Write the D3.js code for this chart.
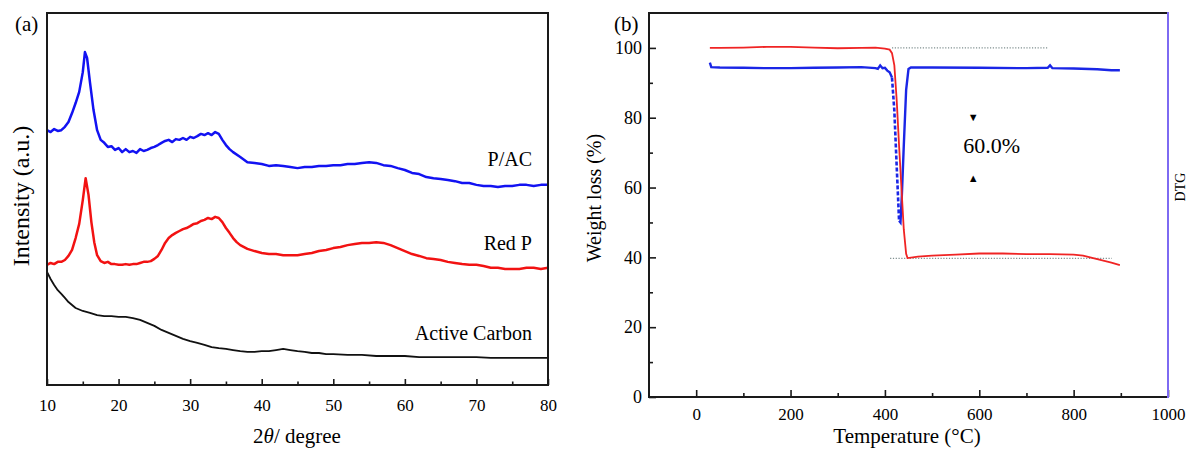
<!DOCTYPE html>
<html>
<head>
<meta charset="utf-8">
<script src="https://cdn.jsdelivr.net/npm/d3@7"></script>
<style>
  body { margin: 0; background: #fff; }
  svg text { font-family: "Liberation Serif", "Times New Roman", serif; fill: #000; }
</style>
</head>
<body>
<div id="chart"></div>
<script>
// ---- panel (a): XRD patterns, [2theta, intensity a.u.]
const xrdPAC = [
  [10,685],[10.5,680],[11,688],[11.5,683],[12,685],[12.5,694],[13,707],[13.5,731],[14,758],[14.5,788],
  [15,841],[15.3,895],[15.6,879],[16,814],[16.5,739],[17,685],[17.5,659],[18,651],[18.5,640],[19,642],
  [19.5,632],[20,637],[20.5,626],[21,634],[21.5,626],[22,629],[22.5,624],[23,634],[23.5,629],[24,632],
  [24.5,637],[25,640],[25.5,645],[26,651],[26.5,656],[27,659],[27.5,653],[28,661],[28.5,659],[29,664],
  [29.5,659],[30,667],[30.5,664],[31,669],[31.5,675],[32,672],[32.5,677],[33,672],[33.5,680],[34,675],
  [34.5,659],[35,645],[35.5,634],[36,626],[37,613],[38,599],[39,597],[40,594],[41,589],[42,591],
  [43,589],[44,586],[45,583],[46,586],[47,586],[48,589],[49,589],[50,591],[51,591],[52,594],
  [53,594],[54,597],[55,599],[56,597],[57,591],[58,589],[59,583],[60,578],[61,570],[62,567],
  [63,559],[64,556],[65,554],[66,551],[67,548],[68,543],[69,543],[70,538],[71,535],[72,535],
  [73,532],[74,535],[75,535],[76,538],[77,538],[78,535],[79,538],[80,538]
];
const xrdRedP = [
  [10,323],[10.5,328],[11,325],[11.5,331],[12,331],[12.5,336],[13,347],[13.5,363],[14,395],[14.5,433],
  [15,497],[15.4,556],[15.8,511],[16.2,438],[16.6,384],[17,349],[17.5,333],[18,328],[18.5,331],[19,325],
  [19.5,325],[20,323],[20.5,323],[21,325],[21.5,323],[22,325],[22.5,325],[23,328],[23.5,331],[24,331],
  [24.5,333],[25,339],[25.5,347],[26,363],[26.5,382],[27,395],[27.5,403],[28,409],[28.5,414],[29,419],
  [29.5,422],[30,427],[30.5,433],[31,435],[31.5,441],[32,444],[32.5,449],[33,446],[33.5,452],[34,449],
  [34.5,438],[35,422],[35.5,409],[36,395],[36.5,384],[37,376],[38,366],[39,360],[40,355],[41,352],
  [42,352],[43,349],[44,349],[45,349],[46,352],[47,355],[48,360],[49,363],[50,368],[51,371],
  [52,376],[53,379],[54,382],[55,382],[56,384],[57,382],[58,376],[59,368],[60,360],[61,352],
  [62,347],[63,341],[64,339],[65,336],[66,331],[67,328],[68,325],[69,323],[70,323],[71,320],
  [72,315],[73,315],[74,312],[75,312],[76,312],[77,315],[78,315],[79,312],[80,315]
];
const xrdCarbon = [
  [10,304],[10.5,285],[11,269],[11.5,255],[12,245],[12.5,234],[13,223],[13.5,215],[14,207],[15,199],
  [16,194],[17,188],[18,185],[19,185],[20,183],[21,183],[22,180],[23,175],[24,167],[25,159],
  [26,148],[27,140],[28,132],[29,124],[30,118],[31,113],[32,108],[33,102],[34,99],[35,97],
  [36,94],[37,91],[38,89],[39,89],[40,91],[41,91],[42,94],[43,97],[44,94],[45,91],
  [46,89],[47,86],[48,86],[49,83],[50,83],[52,81],[54,81],[56,78],[58,78],[60,78],
  [62,75],[64,75],[66,75],[68,75],[70,75],[72,73],[74,73],[76,73],[78,73],[80,73]
];
const xrdLabels = ["P/AC", "Red P", "Active Carbon"];
const xrdLabelPos = [[80, 588], [80, 363], [80, 122]];
const xrdMajorTicks = [10, 20, 30, 40, 50, 60, 70, 80];
const xrdMinorTicks = [15, 25, 35, 45, 55, 65, 75];

// ---- panel (b): TG / DTG, [temperature, value]
const tgCurve = [
  [29,100.0],[50,100.0],[100,100.1],[150,100.3],[200,100.3],[250,100.1],[300,99.9],[350,100.0],
  [380,100.1],[400,99.8],[410,99.5],[415,98.5],[420,95],[425,85],[430,72],[435,60],[440,48],
  [445,41],[448,39.8],[470,40.2],[500,40.5],[550,40.8],[600,41.1],[650,41.1],[700,40.9],
  [750,40.9],[800,40.8],[820,40.5],[850,39.5],[880,38.5],[898,37.8]
];
const dtgCurve = [
  [29,95.8],[32,94.5],[50,94.4],[100,94.3],[150,94.2],[200,94.2],[250,94.3],[300,94.4],
  [350,94.5],[380,94.2],[385,94.0],[390,95.0],[395,94.2],[400,94.3],[405,93.5],[410,93.0],
  [415,91.5],[420,82],[425,66],[430,50.5],[433,50],[436,58],[440,72],[445,88],[450,94.0],
  [455,94.4],[500,94.4],[600,94.3],[700,94.2],[745,94.3],[750,95.0],[755,94.2],[800,94.1],
  [850,93.9],[880,93.6],[898,93.6]
];
const dtgDashedRange = [415, 430];
const refLines = [[[415, 100], [746, 100]], [[411, 39.7], [881, 39.7]]];
const lossText = "60.0%";
const lossArrows = [[587, 80.2, "▼"], [587, 62.7, "▲"]];
const tgMajorX = [0, 200, 400, 600, 800, 1000];
const tgMinorX = [100, 300, 500, 700, 900];
const tgMajorY = [0, 20, 40, 60, 80, 100];
const tgMinorY = [10, 30, 50, 70, 90];

const W = 1187, H = 449;
const svg = d3.select("#chart").append("svg")
    .attr("width", W).attr("height", H)
    .style("background", "#fff");

// draws the four sides of a plot box as separate lines
function drawFrame(box, rightColor) {
    const sides = [
        [box.left, box.top, box.right, box.top, "#1a1a1a"],
        [box.left, box.bottom, box.right, box.bottom, "#1a1a1a"],
        [box.left, box.top, box.left, box.bottom, "#1a1a1a"],
        [box.right, box.top, box.right, box.bottom, rightColor]
    ];
    svg.append("g").attr("class", "frame")
        .selectAll("line")
        .data(sides)
        .join("line")
        .attr("x1", d => d[0]).attr("y1", d => d[1])
        .attr("x2", d => d[2]).attr("y2", d => d[3])
        .attr("stroke", d => d[4])
        .attr("stroke-width", 2)
        .attr("stroke-linecap", "square");
}

// ================= panel (a) =================
const boxA = { left: 47, right: 548, top: 13, bottom: 385 };
const xA = d3.scaleLinear().domain([10, 80]).range([boxA.left, boxA.right]);
const yA = d3.scaleLinear().domain([0, 1000]).range([boxA.bottom, boxA.top]);

const lineA = d3.line().x(d => xA(d[0])).y(d => yA(d[1]));

[[xrdPAC, "#1212f2", 2.5], [xrdRedP, "#f21212", 2.5], [xrdCarbon, "#111", 1.8]].forEach(([data, col, w]) => {
    svg.append("path")
        .datum(data)
        .attr("d", lineA)
        .attr("fill", "none")
        .attr("stroke", col)
        .attr("stroke-width", w)
        .attr("stroke-linejoin", "round");
});

const xAxisA = svg.append("g")
    .attr("transform", `translate(0,${boxA.bottom})`)
    .call(d3.axisBottom(xA).tickValues(xrdMajorTicks).tickSize(-6).tickPadding(14).tickFormat(d3.format("d")));
svg.append("g")
    .attr("transform", `translate(0,${boxA.bottom})`)
    .call(d3.axisBottom(xA).tickValues(xrdMinorTicks).tickSize(-3.5).tickFormat(""));
xAxisA.selectAll("text").style("font-size", "17px");

drawFrame(boxA, "#1a1a1a");

xrdLabels.forEach((t, i) => {
    svg.append("text")
        .attr("x", xA(xrdLabelPos[i][0]) - 16)
        .attr("y", yA(xrdLabelPos[i][1]))
        .attr("text-anchor", "end")
        .style("font-size", "20px")
        .text(t);
});

svg.append("text").attr("x", 15).attr("y", 31).style("font-size", "21px").text("(a)");

const xLabA = svg.append("text")
    .attr("x", 297).attr("y", 443)
    .attr("text-anchor", "middle")
    .style("font-size", "21px");
xLabA.append("tspan").text("2");
xLabA.append("tspan").style("font-style", "italic").text("θ");
xLabA.append("tspan").text("/ degree");

svg.append("text")
    .attr("transform", `translate(29,196) rotate(-90)`)
    .attr("text-anchor", "middle")
    .style("font-size", "24px")
    .text("Intensity (a.u.)");

// ================= panel (b) =================
const boxB = { left: 649, right: 1168, top: 13, bottom: 397 };
const xB = d3.scaleLinear().domain([-100, 1000]).range([boxB.left, boxB.right]);
const yB = d3.scaleLinear().domain([0, 110]).range([boxB.bottom, boxB.top]);
const lineB = d3.line().x(d => xB(d[0])).y(d => yB(d[1]));

// dotted reference lines
refLines.forEach(seg => {
    svg.append("path")
        .datum(seg)
        .attr("d", lineB)
        .attr("stroke", "#7f8f8f")
        .attr("stroke-width", 1.1)
        .attr("stroke-dasharray", "1.2,1.6");
});

// DTG curve: solid outside the dashed descending part
const dtgBefore = dtgCurve.filter(d => d[0] <= dtgDashedRange[0]);
const dtgDashed = dtgCurve.filter(d => d[0] >= dtgDashedRange[0] && d[0] <= dtgDashedRange[1]);
const dtgAfter = dtgCurve.filter(d => d[0] >= dtgDashedRange[1]);
[dtgBefore, dtgAfter].forEach(seg => {
    svg.append("path")
        .datum(seg)
        .attr("d", lineB)
        .attr("fill", "none")
        .attr("stroke", "#1a26e6")
        .attr("stroke-width", 2.4);
});
svg.append("path")
    .datum(dtgDashed)
    .attr("d", lineB)
    .attr("fill", "none")
    .attr("stroke", "#1a26e6")
    .attr("stroke-width", 2.6)
    .attr("stroke-dasharray", "4,2");

svg.append("path")
    .datum(tgCurve)
    .attr("d", lineB)
    .attr("fill", "none")
    .attr("stroke", "#f02424")
    .attr("stroke-width", 1.8);

const xAxisB = svg.append("g")
    .attr("transform", `translate(0,${boxB.bottom})`)
    .call(d3.axisBottom(xB).tickValues(tgMajorX).tickSize(-7).tickPadding(11).tickFormat(d3.format("d")));
svg.append("g")
    .attr("transform", `translate(0,${boxB.bottom})`)
    .call(d3.axisBottom(xB).tickValues(tgMinorX).tickSize(-4).tickFormat(""));
const yAxisB = svg.append("g")
    .attr("transform", `translate(${boxB.left},0)`)
    .call(d3.axisLeft(yB).tickValues(tgMajorY).tickSize(-7).tickPadding(7).tickFormat(d3.format("d")));
svg.append("g")
    .attr("transform", `translate(${boxB.left},0)`)
    .call(d3.axisLeft(yB).tickValues(tgMinorY).tickSize(-4).tickFormat(""));
svg.selectAll(".domain").remove();
svg.selectAll(".tick line").attr("stroke", "#1a1a1a").attr("stroke-width", 1.6);
xAxisB.selectAll("text").style("font-size", "17px");
yAxisB.selectAll("text").style("font-size", "18px");

drawFrame(boxB, "#7d6af2");

lossArrows.forEach(([t, v, s]) => {
    svg.append("text")
        .attr("x", xB(t)).attr("y", yB(v))
        .attr("text-anchor", "middle")
        .attr("dy", "0.35em")
        .style("font-size", "11px")
        .text(s);
});
svg.append("text")
    .attr("x", xB(566)).attr("y", yB(69.9))
    .style("font-size", "22px")
    .text(lossText);

svg.append("text").attr("x", 614).attr("y", 31).style("font-size", "21px").text("(b)");

svg.append("text")
    .attr("x", 907).attr("y", 443)
    .attr("text-anchor", "middle")
    .style("font-size", "21px")
    .text("Temperature (°C)");

svg.append("text")
    .attr("transform", `translate(601,198) rotate(-90)`)
    .attr("text-anchor", "middle")
    .style("font-size", "20px")
    .text("Weight loss (%)");

svg.append("text")
    .attr("transform", `translate(1185,187) rotate(-90)`)
    .attr("text-anchor", "middle")
    .style("font-size", "14px")
    .text("DTG");
</script>
</body>
</html>
